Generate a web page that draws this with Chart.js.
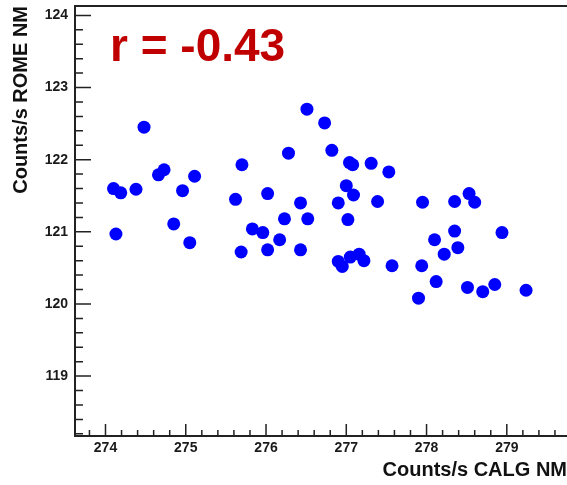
<!DOCTYPE html>
<html>
<head>
<meta charset="utf-8">
<script src="https://cdn.jsdelivr.net/npm/chart.js@4"></script>
<style>
  html, body { margin: 0; padding: 0; background: #fff; overflow: hidden; }
  canvas { display: block; }
</style>
</head>
<body>
<canvas id="corr" width="567" height="485"></canvas>
<script>
// counts per second, CALG vs ROME neutron monitors
var calgCounts = [274.10, 274.19, 274.13, 274.38, 274.48, 274.66, 274.73, 274.85, 274.96, 275.05,
  275.11, 275.62, 275.70, 275.69, 275.83, 275.96, 276.02, 276.02, 276.17, 276.23,
  276.28, 276.43, 276.43, 276.51, 276.52, 276.73, 276.82, 276.90, 276.90, 276.95,
  277.00, 277.02, 277.04, 277.08, 277.05, 277.09, 277.16, 277.22, 277.31, 277.39,
  277.53, 277.57, 277.90, 277.95, 277.94, 278.10, 278.12, 278.22, 278.35, 278.35,
  278.39, 278.51, 278.53, 278.60, 278.70, 278.85, 278.94, 279.24];
var romeCounts = [121.60, 121.54, 120.97, 121.59, 122.45, 121.79, 121.86, 121.11, 121.57, 120.85,
  121.77, 121.45, 121.93, 120.72, 121.04, 120.99, 121.53, 120.75, 120.89, 121.18,
  122.09, 121.40, 120.75, 122.70, 121.18, 122.51, 122.13, 121.40, 120.59, 120.52,
  121.64, 121.17, 121.96, 121.93, 120.65, 121.51, 120.69, 120.60, 121.95, 121.42,
  121.83, 120.53, 120.08, 121.41, 120.53, 120.89, 120.31, 120.69, 121.42, 121.01,
  120.78, 120.23, 121.53, 121.41, 120.17, 120.27, 120.99, 120.19];
var xTicks = [274, 275, 276, 277, 278, 279];
var yTicks = [119, 120, 121, 122, 123, 124];
var corrLabel = 'r = -0.43';

var points = calgCounts.map(function (v, i) { return {x: v, y: romeCounts[i]}; });

// ROOT style frame with ticks pointing inwards
var frameTicks = {
  id: 'frameTicks',
  beforeDatasetsDraw: function (chart) {
    var ctx = chart.ctx, a = chart.chartArea;
    var xs = chart.scales.x, ys = chart.scales.y;
    ctx.save();
    ctx.strokeStyle = '#222';
    ctx.lineWidth = 1.5;
    ctx.beginPath();
    for (var i = Math.ceil(xs.min * 5); i <= Math.floor(xs.max * 5); i++) {
      var px = xs.getPixelForValue(i / 5);
      var len = (i % 5 === 0) ? 12 : 6;
      ctx.moveTo(px, a.bottom);
      ctx.lineTo(px, a.bottom - len);
    }
    for (var j = Math.ceil(ys.min * 5); j <= Math.floor(ys.max * 5); j++) {
      var py = ys.getPixelForValue(j / 5);
      var l2 = (j % 5 === 0) ? 16 : 8;
      ctx.moveTo(a.left, py);
      ctx.lineTo(a.left + l2, py);
    }
    ctx.stroke();
    ctx.lineWidth = 2;
    ctx.beginPath();
    ctx.moveTo(chart.width, a.top);
    ctx.lineTo(a.left, a.top);
    ctx.lineTo(a.left, a.bottom);
    ctx.lineTo(chart.width, a.bottom);
    ctx.stroke();
    ctx.restore();
  },
  afterDraw: function (chart) {
    var ctx = chart.ctx;
    ctx.save();
    ctx.fillStyle = '#c00000';
    ctx.font = 'bold 46px "Liberation Sans", Arial, sans-serif';
    ctx.textBaseline = 'alphabetic';
    ctx.fillText(corrLabel, 110, 61);
    ctx.restore();
  }
};

var tickFont = {family: '"Liberation Sans", Arial, sans-serif', size: 14, weight: 'bold'};
var titleFont = {family: '"Liberation Sans", Arial, sans-serif', size: 20, weight: 'bold'};

new Chart(document.getElementById('corr').getContext('2d'), {
  type: 'scatter',
  data: {
    datasets: [{
      data: points,
      backgroundColor: '#0000ff',
      borderWidth: 0,
      pointRadius: 6.5,
      pointHoverRadius: 6.5
    }]
  },
  options: {
    responsive: false,
    animation: false,
    layout: {autoPadding: false, padding: {top: 6, right: 0, left: 0, bottom: 0}},
    plugins: {legend: {display: false}, tooltip: {enabled: false}},
    scales: {
      x: {
        type: 'linear',
        min: 273.62,
        max: 279.75,
        afterBuildTicks: function (s) { s.ticks = xTicks.map(function (v) { return {value: v}; }); },
        afterFit: function (s) { s.height = 49; s.paddingLeft = 0; s.paddingRight = 0; },
        grid: {display: false, drawTicks: false},
        border: {display: false},
        ticks: {font: tickFont, color: '#1a1a1a', padding: 4, maxRotation: 0, autoSkip: false},
        title: {display: true, text: 'Counts/s CALG NM', align: 'end', font: titleFont, color: '#111', padding: {top: 0, bottom: 3}}
      },
      y: {
        type: 'linear',
        min: 118.17,
        max: 124.13,
        afterBuildTicks: function (s) { s.ticks = yTicks.map(function (v) { return {value: v}; }); },
        afterFit: function (s) { s.width = 75; s.paddingTop = 0; s.paddingBottom = 0; },
        grid: {display: false, drawTicks: false},
        border: {display: false},
        ticks: {font: tickFont, color: '#1a1a1a', padding: 7, autoSkip: false},
        title: {display: true, text: 'Counts/s ROME NM', align: 'end', font: titleFont, color: '#111', padding: {top: 9, bottom: 0}}
      }
    }
  },
  plugins: [frameTicks]
});
</script>
</body>
</html>
